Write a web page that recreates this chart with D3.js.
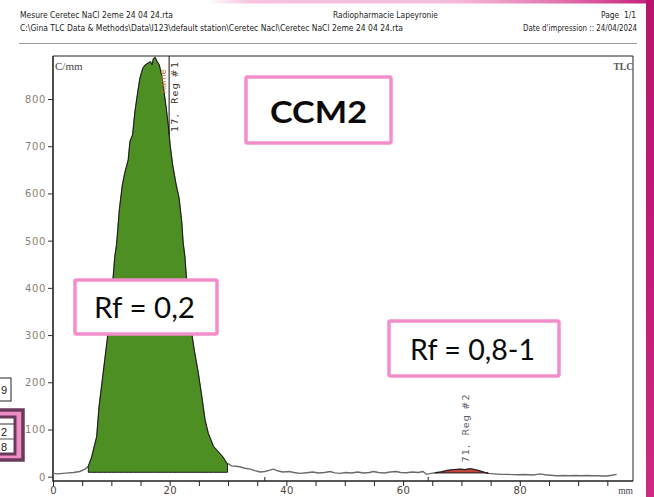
<!DOCTYPE html>
<html>
<head>
<meta charset="utf-8">
<script src="https://cdn.jsdelivr.net/npm/d3@7/dist/d3.min.js"></script>
<style>
  html, body { margin: 0; padding: 0; background: #fff; }
  svg { display: block; }
  text { white-space: pre; }
</style>
</head>
<body>
<svg id="chart" width="654" height="497"></svg>
<script>
// Radio-TLC scan profile: position along the plate (mm) vs. counts per mm
const positionMM = [
  0, 0.8, 1.8, 2.6, 3.5, 4.6, 5.5, 6.05, 6.6, 7.5, 7.9, 8.6, 9.3, 10.05, 10.6, 10.9,
  11.4, 11.9, 12.3, 12.9, 13.2, 13.65, 14.05, 14.45, 14.9, 15.4, 15.8, 16.3, 16.7, 17.0,
  17.2, 17.5, 17.8, 18.2, 18.6, 19.0, 19.4, 19.8, 20.05, 20.5, 21.1, 21.6, 22.05, 22.3,
  22.6, 23.0, 23.5, 24.2, 24.9, 25.5, 26.05, 26.6, 27.5, 28.3, 29.1, 29.8, 30.05, 30.6,
  31.3, 32.0, 32.9, 33.8, 34.6, 35.5, 36.3, 37.2, 37.8, 38.6, 39.4, 40.5, 41.3, 42.3,
  43.5, 44.5, 45.5, 46.5, 47.5, 48.3, 49.2, 50.2, 51.2, 52.2, 53.2, 54.2, 54.9, 55.8,
  56.8, 57.8, 58.8, 59.6, 60.6, 61.6, 62.6, 63.4, 64.0, 64.8, 65.5, 66.5, 67.5, 68.6,
  69.8, 70.6, 71.5, 72.3, 73.2, 74.0, 74.6, 75.6, 76.6, 77.8, 78.8, 79.8, 80.8, 81.6,
  82.3, 83.0, 83.5, 84.3, 85.3, 86.3, 87.5, 88.5, 89.5, 90.5, 91.5, 92.5, 93.5, 94.3,
  94.9, 95.8, 96.6
];
const countsPerMM = [
  7, 6, 7, 8, 9, 11, 16, 22, 40, 85, 148, 219, 290, 381, 466, 491,
  568, 618, 643, 671, 710, 724, 773, 808, 844, 865, 872, 876, 879, 872,
  885, 888, 880, 872, 851, 816, 780, 738, 703, 660, 618, 590, 540, 495,
  466, 396, 325, 268, 219, 169, 120, 92, 64, 53, 42, 28, 27, 23,
  22, 21, 18, 16, 13, 10, 11, 14, 16, 12, 10, 11, 9, 7,
  8.5, 10, 8, 9, 11, 8, 7, 9, 8, 10, 8, 9, 11, 9,
  8, 10, 11, 9, 8.5, 10, 9, 11, 5, 7, 8.5, 10, 13, 15,
  16, 15, 17, 15, 12, 9, 7, 6, 5, 5, 4.5, 4, 4.5, 4,
  3.6, 5, 6, 4, 3, 2, 2.5, 2, 2.5, 2, 2.5, 2, 2, 1.5,
  1.5, 3, 5
];

// Integration regions
const regionNames = ["Reg #1", "Reg #2"];
const regionStart = [6.05, 65.5];
const regionEnd = [29.9, 74.6];
const regionBase = [9.3, 8];
const regionPeak = [17, 71];
const regionColors = ["#4d8f22", "#c0443a"];

// Axis ticks
const yTickValues = [0, 100, 200, 300, 400, 500, 600, 700, 800];
const xTickValues = [0, 5, 10, 15, 20, 25, 30, 35, 40, 45, 50, 55, 60, 65, 70, 75, 80, 85, 90, 95];
const xLabelEvery = 20;
const backgroundMarks = [36.3, 64.3];
const peakMarkerMM = 19.9;

// Report header
const headerLeft = ["Mesure Ceretec NaCl 2eme 24 04 24.rta",
  "C:\\Gina TLC Data & Methods\\Data\\I123\\default station\\Ceretec Nacl\\Ceretec NaCl 2eme 24 04 24.rta"];
const headerCenter = "Radiopharmacie Lapeyronie";
const headerRight = ["Page  1/1", "Date d'impression :: 24/04/2024"];

// Slide annotations
const annotTitle = "CCM2";
const annotRf = ["Rf = 0,2", "Rf = 0,8-1"];
const edgeCells = ["9", "2", "8"];

const svg = d3.select("#chart");
const W = 654, H = 497;
const frame = { left: 53, right: 633, top: 56, bottom: 481 };

const x = d3.scaleLinear().domain([0, 99.4]).range([frame.left, frame.right]);
const y = d3.scaleLinear().domain([0, 800]).range([476.7, 99]);

const defs = svg.append("defs");
const stripe = defs.append("linearGradient").attr("id", "stripe")
  .attr("x1", 0).attr("y1", 0).attr("x2", 0).attr("y2", 1);
stripe.append("stop").attr("offset", "0%").attr("stop-color", "#b8146e");
stripe.append("stop").attr("offset", "55%").attr("stop-color", "#c21b78");
stripe.append("stop").attr("offset", "100%").attr("stop-color", "#cd2a82");
const topBand = defs.append("linearGradient").attr("id", "topband")
  .attr("x1", 0).attr("y1", 0).attr("x2", 1).attr("y2", 0);
topBand.append("stop").attr("offset", "0%").attr("stop-color", "#f6c2dd").attr("stop-opacity", 0.0);
topBand.append("stop").attr("offset", "10%").attr("stop-color", "#f4b3d6").attr("stop-opacity", 0.8);
topBand.append("stop").attr("offset", "55%").attr("stop-color", "#ef9fcb").attr("stop-opacity", 0.7);
topBand.append("stop").attr("offset", "85%").attr("stop-color", "#dd5aa0").attr("stop-opacity", 1);
topBand.append("stop").attr("offset", "100%").attr("stop-color", "#c21b78").attr("stop-opacity", 1);
defs.append("clipPath").attr("id", "pageclip")
  .append("rect").attr("x", 0).attr("y", 0).attr("width", W).attr("height", H);

svg.append("rect").attr("width", W).attr("height", H).attr("fill", "#fff");

// Decorative slide edges
svg.append("rect").attr("x", 205).attr("y", 0).attr("width", W - 205).attr("height", 3.5)
  .attr("fill", "url(#topband)");
svg.append("rect").attr("x", 646).attr("y", 0).attr("width", 8).attr("height", H)
  .attr("fill", "url(#stripe)");

// Header
const hdrFont = "'Liberation Sans Narrow', 'DejaVu Sans Condensed', 'Liberation Sans', sans-serif";
const hdr = svg.append("g").attr("font-family", hdrFont).attr("font-size", 8.6).attr("fill", "#222");
hdr.append("text").attr("x", 20).attr("y", 18).text(headerLeft[0])
  .attr("textLength", 153).attr("lengthAdjust", "spacingAndGlyphs");
hdr.append("text").attr("x", 20).attr("y", 31).text(headerLeft[1])
  .attr("textLength", 383).attr("lengthAdjust", "spacingAndGlyphs");
hdr.append("text").attr("x", 333).attr("y", 18).text(headerCenter)
  .attr("textLength", 105).attr("lengthAdjust", "spacingAndGlyphs");
hdr.append("text").attr("x", 601).attr("y", 18).text(headerRight[0])
  .attr("textLength", 35).attr("lengthAdjust", "spacingAndGlyphs");
hdr.append("text").attr("x", 523).attr("y", 31).text(headerRight[1])
  .attr("textLength", 114).attr("lengthAdjust", "spacingAndGlyphs");
svg.append("line").attr("x1", 19).attr("x2", 637).attr("y1", 43.5).attr("y2", 43.5)
  .attr("stroke", "#9a9a9a").attr("stroke-width", 1);

// Frame
svg.append("path")
  .attr("d", `M${frame.left},${frame.top}H${frame.right}V${frame.bottom}`)
  .attr("fill", "none").attr("stroke", "#222").attr("stroke-width", 1);
svg.append("path")
  .attr("d", `M${frame.left},${frame.top}V${frame.bottom}H${frame.right}`)
  .attr("fill", "none").attr("stroke", "#222").attr("stroke-width", 1.6);

// Y axis
const yAxis = svg.append("g").attr("transform", `translate(${frame.left},0)`)
  .call(d3.axisLeft(y).tickValues(yTickValues).tickSize(5).tickPadding(2).tickFormat(d3.format("d")));
yAxis.select(".domain").remove();
yAxis.selectAll("line").attr("stroke", "#333");
yAxis.selectAll("text").attr("font-family", "'DejaVu Sans', Verdana, sans-serif")
  .attr("font-size", 10).attr("fill", "#8c7f72").attr("letter-spacing", 0.6).attr("dy", "0.34em");

// X axis
const xAxis = svg.append("g").attr("transform", `translate(0,${frame.bottom})`)
  .call(d3.axisBottom(x).tickValues(xTickValues).tickSize(5).tickPadding(1)
    .tickFormat(d => d % xLabelEvery === 0 ? d : ""));
xAxis.select(".domain").remove();
xAxis.selectAll("line").attr("stroke", "#222");
xAxis.selectAll("text").attr("font-family", "'DejaVu Sans', Verdana, sans-serif")
  .attr("font-size", 10).attr("fill", "#4e4236").attr("letter-spacing", 0.4);
svg.append("g").selectAll("line").data(backgroundMarks).join("line")
  .attr("x1", d => x(d)).attr("x2", d => x(d))
  .attr("y1", frame.bottom).attr("y2", frame.bottom - 4)
  .attr("stroke", "#222").attr("stroke-width", 1);

// Axis captions
svg.append("text").attr("x", 55).attr("y", 70).text("C/mm")
  .attr("font-family", "'Liberation Serif', 'DejaVu Serif', serif").attr("font-size", 11).attr("fill", "#444");
svg.append("text").attr("x", 633).attr("y", 70).attr("text-anchor", "end").text("TLC")
  .attr("font-family", "'Liberation Serif', 'DejaVu Serif', serif").attr("font-size", 9.5)
  .attr("font-weight", "bold").attr("fill", "#555");
svg.append("text").attr("x", 633).attr("y", 494).attr("text-anchor", "end").text("mm")
  .attr("font-family", "'Liberation Serif', 'DejaVu Serif', serif").attr("font-size", 9.5).attr("fill", "#444");

// Profile
const profile = positionMM.map((p, i) => ({ p, c: countsPerMM[i] }));
const interp = p => {
  const i = d3.bisector(d => d.p).left(profile, p);
  if (i <= 0) return profile[0].c;
  if (i >= profile.length) return profile[profile.length - 1].c;
  const a = profile[i - 1], b = profile[i];
  return a.c + (b.c - a.c) * (p - a.p) / (b.p - a.p);
};

const line = d3.line().x(d => x(d.p)).y(d => y(d.c)).curve(d3.curveLinear);
svg.append("path").datum(profile).attr("d", line)
  .attr("fill", "none").attr("stroke", "#6a6a6a").attr("stroke-width", 1.4);

// Integrated regions
regionStart.forEach((s, k) => {
  const e = regionEnd[k];
  const pts = [{ p: s, c: interp(s) }]
    .concat(profile.filter(d => d.p > s && d.p < e))
    .concat([{ p: e, c: interp(e) }]);
  const area = d3.area().x(d => x(d.p)).y0(y(regionBase[k])).y1(d => y(d.c));
  svg.append("path").datum(pts).attr("d", area)
    .attr("fill", regionColors[k]).attr("stroke", "#1a1a1a").attr("stroke-width", 1)
    .attr("stroke-linejoin", "round");
});

// Peak-name caption along the right flank of the first peak
svg.append("text")
  .attr("transform", `translate(${x(19.45)},${y(812)}) rotate(-90)`)
  .attr("font-family", "'DejaVu Sans', sans-serif").attr("font-size", 8.5)
  .attr("fill", "#c07a30").text("name");

// Peak marker and labels
svg.append("line").attr("x1", x(peakMarkerMM)).attr("x2", x(peakMarkerMM))
  .attr("y1", frame.top).attr("y2", y(interp(peakMarkerMM)))
  .attr("stroke", "#111").attr("stroke-width", 1);
svg.append("text")
  .attr("transform", `translate(${x(peakMarkerMM) + 9},${y(730)}) rotate(-90)`)
  .attr("font-family", "'DejaVu Sans', sans-serif").attr("font-size", 9.5).attr("fill", "#3a3128")
  .attr("textLength", 70).attr("lengthAdjust", "spacing")
  .text(`${regionPeak[0]},  ${regionNames[0]}`);
svg.append("text")
  .attr("transform", `translate(${x(regionPeak[1]) + 2},${y(30)}) rotate(-90)`)
  .attr("font-family", "'DejaVu Sans', sans-serif").attr("font-size", 9.5).attr("fill", "#5c5c6a")
  .attr("textLength", 68).attr("lengthAdjust", "spacing")
  .text(`${regionPeak[1]},  ${regionNames[1]}`);

// Partial boxes at the left edge of the slide
const edge = svg.append("g").attr("clip-path", "url(#pageclip)");
edge.append("rect").attr("x", -20).attr("y", 378).attr("width", 31).attr("height", 23)
  .attr("fill", "#fff").attr("stroke", "#222").attr("stroke-width", 1);
edge.append("rect").attr("x", -20).attr("y", 410).attr("width", 43).attr("height", 50)
  .attr("fill", "#f08cc4").attr("stroke", "#6a3a5c").attr("stroke-width", 3.5);
edge.append("rect").attr("x", -20).attr("y", 417).attr("width", 35).attr("height", 37)
  .attr("fill", "#fff").attr("stroke", "#6a3a5c").attr("stroke-width", 3);
edge.append("line").attr("x1", -20).attr("x2", 14).attr("y1", 439).attr("y2", 439)
  .attr("stroke", "#555").attr("stroke-width", 1);
edge.append("line").attr("x1", -20).attr("x2", 14).attr("y1", 424).attr("y2", 424)
  .attr("stroke", "#333").attr("stroke-width", 1);
const edgeY = [394, 436, 451];
edgeCells.forEach((t, i) => {
  edge.append("text").attr("x", 1).attr("y", edgeY[i]).text(t)
    .attr("font-family", "'Liberation Sans', sans-serif").attr("font-size", 11).attr("fill", "#222");
});

// Slide annotation boxes
const boxFont = "Lato, 'Open Sans', sans-serif";
function annotBox(x0, y0, w, h, label, tx, ty, tw, size, weight) {
  svg.append("rect").attr("x", x0).attr("y", y0).attr("width", w).attr("height", h)
    .attr("fill", "#fff").attr("stroke", "#f28fca").attr("stroke-width", 3.5).attr("rx", 1.5);
  svg.append("text").attr("x", tx).attr("y", ty).text(label)
    .attr("font-family", boxFont).attr("font-size", size).attr("font-weight", weight)
    .attr("fill", "#0a0a0a").attr("textLength", tw).attr("lengthAdjust", "spacingAndGlyphs");
}
annotBox(246, 77, 145, 66, annotTitle, 270, 123, 97, 30, "bold");
annotBox(75, 280, 142, 54, annotRf[0], 94, 318, 101, 28, "normal");
annotBox(389, 321, 170, 55, annotRf[1], 410, 360, 125, 28, "normal");
</script>
</body>
</html>
